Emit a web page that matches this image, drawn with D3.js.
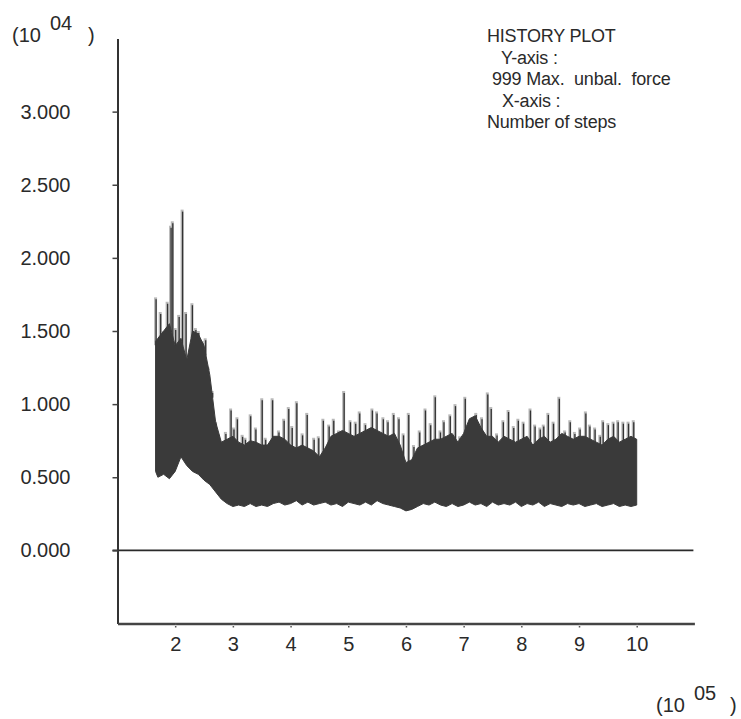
<!DOCTYPE html>
<html>
<head>
<meta charset="utf-8">
<script src="https://cdn.jsdelivr.net/npm/d3@7"></script>
<style>
  html, body { margin: 0; padding: 0; background: #fff; }
  svg { display: block; }
  text { font-family: "Liberation Sans", Arial, sans-serif; fill: #2a2a2a; }
</style>
</head>
<body>
<svg id="chart" width="741" height="719"></svg>
<script>
// ---- data (y in units of 10^4, x in units of 10^5 steps) ----
const yTicks = [0, 0.5, 1.0, 1.5, 2.0, 2.5, 3.0];
const xTicks = [2, 3, 4, 5, 6, 7, 8, 9, 10];

const bodyX = [1.66, 1.7, 1.8, 1.9, 2.0, 2.1, 2.2, 2.3, 2.4, 2.5, 2.6, 2.7, 2.8, 2.9,
  3.0, 3.1, 3.2, 3.3, 3.4, 3.5, 3.6, 3.7, 3.8, 3.9, 4.0, 4.1, 4.2, 4.3, 4.4, 4.5,
  4.6, 4.7, 4.8, 4.9, 5.0, 5.1, 5.2, 5.3, 5.4, 5.5, 5.6, 5.7, 5.8, 5.9, 6.0, 6.1,
  6.2, 6.3, 6.4, 6.5, 6.6, 6.7, 6.8, 6.9, 7.0, 7.1, 7.2, 7.3, 7.4, 7.5, 7.6, 7.7,
  7.8, 7.9, 8.0, 8.1, 8.2, 8.3, 8.4, 8.5, 8.6, 8.7, 8.8, 8.9, 9.0, 9.1, 9.2, 9.3,
  9.4, 9.5, 9.6, 9.7, 9.8, 9.9, 10.0];
const bodyTop = [1.43, 1.45, 1.50, 1.55, 1.40, 1.45, 1.30, 1.50, 1.48, 1.40, 1.20, 0.88, 0.74, 0.76,
  0.78, 0.74, 0.72, 0.75, 0.74, 0.72, 0.72, 0.78, 0.78, 0.76, 0.72, 0.70, 0.72, 0.70, 0.68, 0.64,
  0.70, 0.78, 0.80, 0.82, 0.80, 0.78, 0.80, 0.82, 0.84, 0.82, 0.80, 0.78, 0.80, 0.72, 0.60, 0.62,
  0.70, 0.72, 0.74, 0.76, 0.76, 0.78, 0.80, 0.74, 0.80, 0.90, 0.92, 0.84, 0.78, 0.78, 0.74, 0.78,
  0.76, 0.74, 0.76, 0.78, 0.72, 0.76, 0.78, 0.74, 0.76, 0.80, 0.78, 0.76, 0.78, 0.78, 0.76, 0.74,
  0.72, 0.76, 0.78, 0.74, 0.76, 0.78, 0.76];
const bodyLow = [0.54, 0.50, 0.52, 0.49, 0.54, 0.64, 0.58, 0.54, 0.52, 0.48, 0.45, 0.40, 0.35, 0.32,
  0.30, 0.31, 0.30, 0.32, 0.30, 0.31, 0.30, 0.32, 0.33, 0.31, 0.32, 0.34, 0.31, 0.33, 0.31, 0.32,
  0.33, 0.31, 0.32, 0.30, 0.33, 0.32, 0.31, 0.33, 0.31, 0.34, 0.32, 0.31, 0.30, 0.29, 0.27, 0.28,
  0.30, 0.32, 0.31, 0.33, 0.31, 0.30, 0.32, 0.30, 0.31, 0.33, 0.31, 0.32, 0.30, 0.33, 0.31, 0.32,
  0.31, 0.33, 0.30, 0.32, 0.31, 0.33, 0.30, 0.32, 0.31, 0.30, 0.32, 0.31, 0.32, 0.30, 0.31, 0.32,
  0.30, 0.31, 0.32, 0.30, 0.31, 0.30, 0.31];

const spikeX = [1.66, 1.74, 1.80, 1.86, 1.92, 1.95, 2.00, 2.06, 2.12, 2.18, 2.29, 2.35, 2.40, 2.47,
  2.52, 2.57, 2.64, 2.70, 2.75, 2.81, 2.87, 2.96, 3.01, 3.07, 3.16, 3.21, 3.30, 3.39, 3.50, 3.56,
  3.68, 3.79, 3.88, 3.96, 4.02, 4.10, 4.20, 4.28, 4.40, 4.48, 4.56, 4.66, 4.74, 4.83, 4.92, 5.03,
  5.12, 5.19, 5.29, 5.41, 5.49, 5.60, 5.68, 5.78, 5.87, 5.95, 6.04, 6.13, 6.23, 6.33, 6.42, 6.50,
  6.59, 6.65, 6.76, 6.85, 6.93, 7.02, 7.11, 7.21, 7.31, 7.41, 7.47, 7.57, 7.68, 7.77, 7.86, 7.94,
  8.03, 8.15, 8.23, 8.32, 8.38, 8.46, 8.55, 8.65, 8.75, 8.84, 8.92, 9.01, 9.11, 9.18, 9.27, 9.36,
  9.41, 9.50, 9.59, 9.67, 9.76, 9.85, 9.94];
const spikeTop = [1.73, 1.63, 1.50, 1.70, 2.22, 2.25, 1.52, 1.61, 2.33, 1.63, 1.69, 1.52, 1.50, 1.43,
  1.45, 1.25, 1.09, 0.88, 0.79, 0.74, 0.81, 0.97, 0.84, 0.91, 0.79, 0.77, 0.93, 0.84, 1.04, 0.77,
  1.04, 0.82, 0.90, 0.98, 0.85, 1.02, 0.80, 0.94, 0.77, 0.78, 0.90, 0.86, 0.90, 0.82, 1.09, 0.89,
  0.88, 0.95, 0.87, 0.97, 0.95, 0.91, 0.89, 0.94, 0.91, 0.80, 0.94, 0.72, 0.82, 0.97, 0.87, 1.06,
  0.82, 0.89, 0.93, 1.00, 0.78, 1.05, 0.86, 0.94, 0.91, 1.08, 0.98, 0.80, 0.89, 0.96, 0.85, 0.90,
  0.88, 0.97, 0.86, 0.84, 0.86, 0.94, 0.88, 1.05, 0.82, 0.89, 0.81, 0.84, 0.95, 0.86, 0.84, 0.79,
  0.89, 0.87, 0.88, 0.89, 0.88, 0.88, 0.89];

const infoLines = ["HISTORY PLOT", "Y-axis :", "999 Max.  unbal.  force", "X-axis :", "Number of steps"];

// ---- drawing ----
const svg = d3.select("#chart");
const x = d3.scaleLinear().domain([1, 11]).range([117.5, 694.4]);
const y = d3.scaleLinear().domain([-0.5, 3.5]).range([623.5, 38.5]);

const body = bodyX.map((d, i) => ({ x: d, top: bodyTop[i], low: bodyLow[i] }));
const topAt = d3.scaleLinear().domain(bodyX).range(bodyTop);

// zero line
svg.append("line")
  .attr("x1", x(1) - 5).attr("x2", x(11) - 1)
  .attr("y1", y(0)).attr("y2", y(0))
  .attr("stroke", "#2a2a2a").attr("stroke-width", 1.6);

// spikes (gray halo + dark core)
const spikes = spikeX.map((d, i) => ({ x: d, top: spikeTop[i] }));
svg.append("g").selectAll("line").data(spikes).join("line")
  .attr("x1", d => x(d.x)).attr("x2", d => x(d.x))
  .attr("y1", d => y(d.top)).attr("y2", d => y(topAt(d.x)) + 4)
  .attr("stroke", "#b8b8b8").attr("stroke-width", 3);
svg.append("g").selectAll("line").data(spikes).join("line")
  .attr("x1", d => x(d.x) + 0.5).attr("x2", d => x(d.x) + 0.5)
  .attr("y1", d => y(d.top) + 2).attr("y2", d => y(topAt(d.x)) + 4)
  .attr("stroke", "#333").attr("stroke-width", 1.3);

// body band
svg.append("path").datum(body)
  .attr("d", d3.area().x(d => x(d.x)).y0(d => y(d.low)).y1(d => y(d.top)))
  .attr("fill", "#3a3a3a")
  .attr("stroke", "#3a3a3a").attr("stroke-width", 1);

// y axis
const yAxis = svg.append("g").attr("transform", `translate(${x(1)},0)`)
  .call(d3.axisLeft(y).tickValues(yTicks).tickSize(5).tickSizeOuter(0)
    .tickPadding(42).tickFormat(d3.format(".3f")));
yAxis.select(".domain").attr("stroke", "#333").attr("stroke-width", 2);
yAxis.selectAll(".tick line").attr("stroke", "#444").attr("stroke-width", 1.5);
yAxis.selectAll(".tick text").attr("font-size", 20).attr("font-family", null)
  .attr("fill", "#2a2a2a");

// x axis
const xAxis = svg.append("g").attr("transform", `translate(0,${y(-0.5)})`)
  .call(d3.axisBottom(x).tickValues(xTicks).tickSize(4).tickSizeOuter(0).tickPadding(9));
xAxis.select(".domain").attr("stroke", "#444").attr("stroke-width", 2.4);
xAxis.selectAll(".tick line").attr("stroke", "#555").attr("stroke-width", 1.5)
  .attr("stroke-dasharray", "1.5,1");
xAxis.selectAll(".tick text").attr("font-size", 20).attr("font-family", null)
  .attr("fill", "#2a2a2a");

// exponent labels
function expLabel(x0, yBase, exp, closeX) {
  const g = svg.append("g");
  g.append("text").attr("x", x0).attr("y", yBase).attr("font-size", 20).text("(10");
  g.append("text").attr("x", x0 + 38).attr("y", yBase - 12).attr("font-size", 20).text(exp);
  g.append("text").attr("x", closeX).attr("y", yBase).attr("font-size", 20).text(")");
}
expLabel(12, 42, "04", 88);
expLabel(656, 712, "05", 730);

// info block
const infoX = [487, 501, 492, 502, 487];
svg.append("g").selectAll("text").data(infoLines).join("text")
  .attr("x", (d, i) => infoX[i])
  .attr("y", (d, i) => 42 + i * 21.5)
  .attr("font-size", 18)
  .attr("letter-spacing", -0.2)
  .style("white-space", "pre")
  .text(d => d);
</script>
</body>
</html>
